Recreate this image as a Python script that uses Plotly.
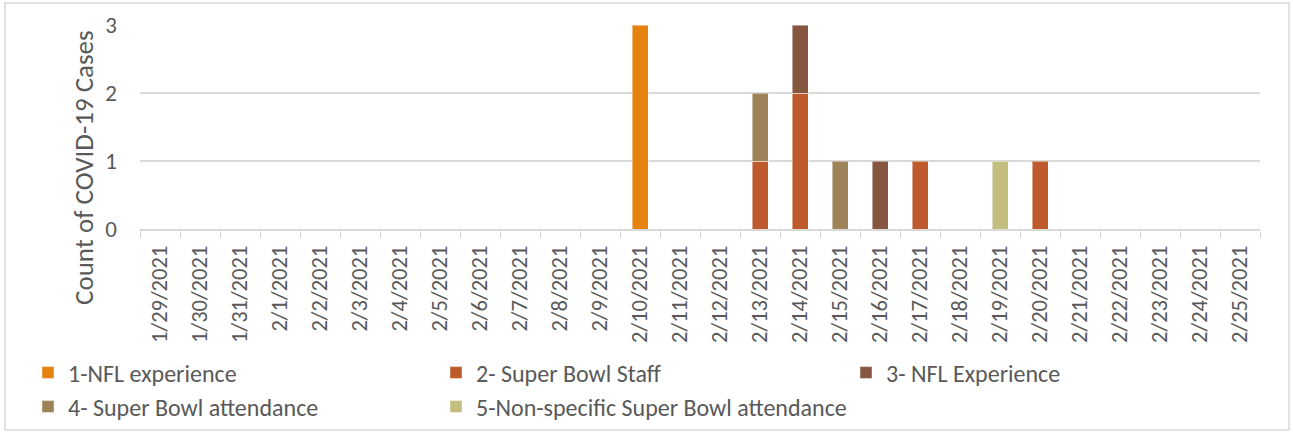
import plotly.graph_objects as go

dates = ["1/29/2021", "1/30/2021", "1/31/2021", "2/1/2021", "2/2/2021", "2/3/2021", "2/4/2021",
         "2/5/2021", "2/6/2021", "2/7/2021", "2/8/2021", "2/9/2021", "2/10/2021", "2/11/2021",
         "2/12/2021", "2/13/2021", "2/14/2021", "2/15/2021", "2/16/2021", "2/17/2021", "2/18/2021",
         "2/19/2021", "2/20/2021", "2/21/2021", "2/22/2021", "2/23/2021", "2/24/2021", "2/25/2021"]

series_names = ["1-NFL experience", "2- Super Bowl Staff", "3- NFL Experience",
                "4- Super Bowl attendance", "5-Non-specific Super Bowl attendance"]

nfl_experience_1 = [0]*12 + [3] + [0]*15
super_bowl_staff = [0]*15 + [1, 2, 0, 0, 1, 0, 0, 1] + [0]*5
nfl_experience_3 = [0]*15 + [0, 1, 0, 1, 0, 0, 0, 0] + [0]*5
sb_attendance = [0]*15 + [1, 0, 1, 0, 0, 0, 0, 0] + [0]*5
non_specific = [0]*15 + [0, 0, 0, 0, 0, 0, 1, 0] + [0]*5

series_values = [nfl_experience_1, super_bowl_staff, nfl_experience_3, sb_attendance, non_specific]
colors = ["#E6820E", "#BE5A2C", "#87563F", "#9D8357", "#C4BD80"]

y_title = "Count of COVID-19 Cases"

FONT = "Calibri, Carlito, Lato, sans-serif"
TXT = "#595959"
GRID = "#D9D9D9"

W, H = 1293, 433
L, R, T, B = 140, 33, 25, 204
pw, ph = W - L - R, H - T - B

# legend slots (pixel left edge, pixel centre y) – Excel style 3-column legend
legend_slots = [(28, 373), (436, 373), (846, 373), (28, 407), (436, 407)]
legend_ids = ["legend", "legend2", "legend3", "legend4", "legend5"]

fig = go.Figure()
for name, vals, c, lid in zip(series_names, series_values, colors, legend_ids):
    fig.add_trace(go.Bar(
        x=dates, y=[v if v else None for v in vals], name=name, legend=lid,
        marker=dict(color=c, line=dict(color="rgba(255,255,255,0.45)", width=1)),
    ))

legend_layout = {}
for lid, (px, py) in zip(legend_ids, legend_slots):
    legend_layout[lid] = dict(
        x=(px - L) / pw, xanchor="left",
        y=(H - B - py) / ph, yanchor="middle",
        bgcolor="rgba(0,0,0,0)", borderwidth=0,
        font=dict(size=24, color=TXT, family=FONT),
    )

fig.update_layout(
    width=W, height=H,
    barmode="stack", bargap=0.6,
    margin=dict(l=L, r=R, t=T, b=B, autoexpand=False),
    paper_bgcolor="white", plot_bgcolor="white",
    font=dict(family=FONT, color=TXT, size=22),
    showlegend=True,
    xaxis=dict(type="category", categoryorder="array", categoryarray=dates,
               tickangle=-90, tickson="boundaries", ticks="outside", ticklen=7,
               tickcolor=GRID, showline=True, linecolor=GRID, linewidth=1.5,
               showgrid=False, tickfont=dict(size=22.5, color=TXT, family=FONT),
               ticklabelstandoff=6, automargin=False, fixedrange=True),
    yaxis=dict(range=[0, 3], dtick=1, showgrid=True, gridcolor=GRID, gridwidth=1.5,
               zeroline=False, showline=False, automargin=False,
               tickfont=dict(size=23, color=TXT, family=FONT),
               ticklabelstandoff=22, fixedrange=True),
    **legend_layout,
)

# Excel places the value-axis title centred on plot + label area
fig.add_annotation(text=y_title, textangle=-90, showarrow=False,
                   xref="paper", yref="paper",
                   x=(83 - L) / pw, y=(H - B - 168) / ph,
                   xanchor="center", yanchor="middle",
                   font=dict(size=27, color=TXT, family=FONT))

fig.add_shape(type="rect", xref="paper", yref="paper",
              x0=(5 - L) / pw, x1=(1289 - L) / pw,
              y0=(H - B - 430) / ph, y1=(H - B - 3) / ph,
              line=dict(color=GRID, width=1.5), fillcolor="rgba(0,0,0,0)", layer="below")

fig.write_html("out.html", config={"displayModeBar": False},
               post_script="document.body.style.margin='0';document.body.style.padding='0';")
